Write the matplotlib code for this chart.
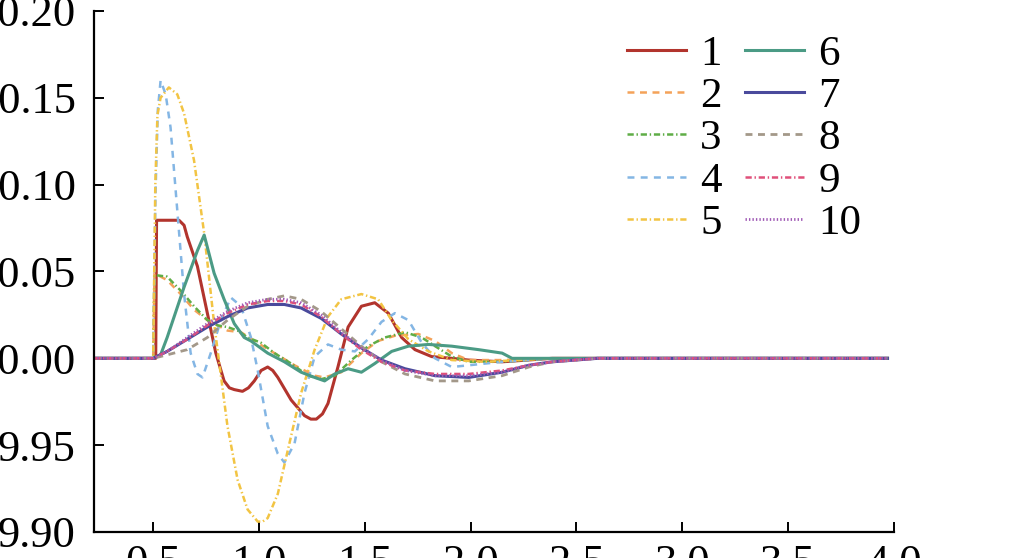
import matplotlib
matplotlib.use("Agg")
import matplotlib.pyplot as plt

plt.rcParams['font.family'] = ['Liberation Serif', 'DejaVu Serif']
plt.rcParams['lines.scale_dashes'] = False

# x positions (time) and y values for every curve
x1 = [0.22, 0.5, 0.512, 0.516, 0.622, 0.646, 0.661, 0.709, 0.756, 0.796, 0.835, 0.860, 0.883, 0.922, 0.950,
      0.978, 1.010, 1.041, 1.065, 1.089, 1.152, 1.215, 1.245, 1.271, 1.300, 1.326, 1.373, 1.421, 1.484,
      1.547, 1.611, 1.674, 1.737, 1.816, 1.911, 1.991, 2.149, 2.386, 2.6, 3.97]
y1 = [10.0, 10.0, 10.0, 10.0795, 10.0795, 10.0766, 10.070, 10.053, 10.026, 10.003, 9.987, 9.983, 9.982,
      9.981, 9.983, 9.987, 9.993, 9.995, 9.993, 9.989, 9.976, 9.967, 9.965, 9.965, 9.968, 9.974, 9.995,
      10.018, 10.030, 10.032, 10.026, 10.012, 10.005, 10.001, 10.000, 9.999, 9.998, 10.000, 10.0, 10.0]

x2 = [0.22, 0.5, 0.506, 0.566, 0.630, 0.693, 0.756, 0.851, 0.915, 0.978, 1.073, 1.168, 1.263, 1.310, 1.389,
      1.484, 1.563, 1.642, 1.753, 1.832, 1.911, 1.991, 2.149, 2.386, 2.6, 3.97]
y2 = [10.0, 10.000, 10.049, 10.045, 10.037, 10.028, 10.022, 10.016, 10.015, 10.010, 10.003, 9.996, 9.990,
      9.989, 9.992, 10.003, 10.010, 10.013, 10.014, 10.010, 10.003, 9.999, 9.999, 10.000, 10.0, 10.0]

x3 = [0.22, 0.5, 0.506, 0.566, 0.630, 0.693, 0.756, 0.804, 0.851, 0.899, 0.946, 1.009, 1.073, 1.152, 1.231,
      1.294, 1.358, 1.437, 1.516, 1.595, 1.690, 1.769, 1.832, 1.911, 1.991, 2.149, 2.386, 2.6, 3.97]
y3 = [10.0, 10.000, 10.048, 10.047, 10.039, 10.030, 10.022, 10.019, 10.018, 10.016, 10.012, 10.009, 10.003,
      9.997, 9.990, 9.988, 9.990, 9.999, 10.007, 10.012, 10.015, 10.012, 10.007, 10.001, 9.998, 9.998,
      10.000, 10.0, 10.0]

x4 = [0.22, 0.5, 0.511, 0.522, 0.535, 0.559, 0.582, 0.614, 0.646, 0.677, 0.709, 0.733, 0.772, 0.820, 0.867,
      0.915, 0.962, 0.994, 1.041, 1.089, 1.120, 1.168, 1.215, 1.263, 1.326, 1.389, 1.453, 1.516, 1.579,
      1.642, 1.706, 1.769, 1.832, 1.911, 1.991, 2.149, 2.386, 2.6, 3.97]
y4 = [10.0, 10.000, 10.095, 10.143, 10.160, 10.152, 10.133, 10.085, 10.037, 10.003, 9.991, 9.989, 10.003,
      10.022, 10.035, 10.030, 10.012, 9.993, 9.961, 9.945, 9.940, 9.951, 9.980, 10.001, 10.008, 10.005,
      10.004, 10.011, 10.021, 10.026, 10.022, 10.009, 10.000, 9.995, 9.996, 9.998, 10.000, 10.0, 10.0]

x5 = [0.22, 0.5, 0.51, 0.52, 0.535, 0.574, 0.614, 0.646, 0.693, 0.741, 0.788, 0.820, 0.851, 0.899, 0.946,
      0.994, 1.017, 1.041, 1.089, 1.136, 1.199, 1.263, 1.326, 1.389, 1.484, 1.563, 1.627, 1.706, 1.801,
      1.911, 2.070, 2.228, 2.386, 2.6, 3.97]
y5 = [10.0, 10.000, 10.100, 10.140, 10.150, 10.156, 10.152, 10.141, 10.114, 10.072, 10.020, 9.990, 9.961,
      9.930, 9.913, 9.906, 9.906, 9.908, 9.922, 9.947, 9.980, 10.005, 10.024, 10.034, 10.037, 10.034,
      10.022, 10.011, 10.004, 9.999, 9.998, 9.999, 10.000, 10.0, 10.0]

x6 = [0.22, 0.5, 0.535, 0.566, 0.646, 0.709, 0.741, 0.788, 0.835, 0.883, 0.930, 0.962, 1.041, 1.120, 1.199,
      1.263, 1.310, 1.358, 1.421, 1.484, 1.547, 1.627, 1.706, 1.801, 1.911, 2.038, 2.149, 2.196, 2.386,
      2.6, 3.97]
y6 = [10.0, 10.000, 10.002, 10.012, 10.041, 10.062, 10.071, 10.049, 10.034, 10.020, 10.012, 10.010, 10.003,
      9.998, 9.992, 9.989, 9.987, 9.991, 9.994, 9.992, 9.997, 10.004, 10.007, 10.008, 10.007, 10.005,
      10.003, 10.000, 10.000, 10.0, 10.0]

# the four slow curves share one set of x positions
x_slow = [0.22, 0.5, 0.566, 0.661, 0.756, 0.851, 0.946, 1.041, 1.120, 1.199, 1.294, 1.389, 1.484, 1.579,
          1.690, 1.832, 1.991, 2.149, 2.275, 2.386, 2.6, 3.97]
y7 = [10.0, 10.000, 10.004, 10.011, 10.018, 10.024, 10.029, 10.031, 10.031, 10.029, 10.023, 10.014, 10.006,
      9.999, 9.994, 9.990, 9.989, 9.992, 9.996, 9.998, 10.0, 10.0]
y8 = [10.0, 10.000, 10.002, 10.005, 10.012, 10.022, 10.030, 10.034, 10.036, 10.034, 10.027, 10.017, 10.007,
      9.998, 9.991, 9.987, 9.987, 9.990, 9.995, 9.998, 10.0, 10.0]
y9 = [10.0, 10.000, 10.004, 10.011, 10.019, 10.026, 10.031, 10.033, 10.033, 10.031, 10.024, 10.014, 10.005,
      9.998, 9.993, 9.991, 9.991, 9.993, 9.996, 9.998, 10.0, 10.0]
y10 = [10.0, 10.000, 10.004, 10.012, 10.020, 10.027, 10.032, 10.034, 10.034, 10.032, 10.025, 10.015, 10.006,
       9.999, 9.993, 9.990, 9.990, 9.992, 9.996, 9.998, 10.0, 10.0]

labels = ['1', '2', '3', '4', '5', '6', '7', '8', '9', '10']
xticks = [0.5, 1.0, 1.5, 2.0, 2.5, 3.0, 3.5, 4.0]
yticks = [9.90, 9.95, 10.00, 10.05, 10.10, 10.15, 10.20]

fig = plt.figure(figsize=(10.1, 5.58), dpi=100)
ax = fig.add_axes([0.093, 0.0466, 0.792, 0.9337])

ax.plot(x1, y1, color='#b2342d', lw=2.2, label=labels[0])
ax.plot(x2, y2, color='#f4a259', lw=1.8, dashes=(5, 4), label=labels[1])
ax.plot(x3, y3, color='#5fad46', lw=1.8, dashes=(4.5, 2, 1, 2), label=labels[2])
ax.plot(x4, y4, color='#84b6e4', lw=1.8, dashes=(5, 4.5), label=labels[3])
ax.plot(x5, y5, color='#f2c443', lw=1.8, dashes=(4.5, 2, 1, 2), label=labels[4])
ax.plot(x6, y6, color='#4b9b85', lw=2.2, label=labels[5])
ax.plot(x_slow, y7, color='#4a4a9c', lw=2.2, label=labels[6])
ax.plot(x_slow, y8, color='#a39889', lw=2.0, dashes=(5, 4), label=labels[7])
ax.plot(x_slow, y9, color='#e0507a', lw=1.8, dashes=(4.5, 2, 1, 2), label=labels[8])
ax.plot(x_slow, y10, color='#a05ab5', lw=2.0, dashes=(1, 1.5), label=labels[9])

ax.set_xlim(0.22, 4.0)
ax.set_ylim(9.90, 10.20)
ax.set_xticks(xticks)
ax.set_yticks(yticks)
ax.set_xticklabels(['%.1f' % v for v in xticks])
ax.set_yticklabels(['%.2f' % v for v in yticks])

# only left and bottom spines, ticks pointing in
ax.spines['top'].set_visible(False)
ax.spines['right'].set_visible(False)
for s in ['left', 'bottom']:
    ax.spines[s].set_linewidth(1.6)
ax.tick_params(direction='in', length=7, width=1.4, labelsize=32)
ax.tick_params(axis='y', pad=13)
ax.tick_params(axis='x', pad=9)

ax.legend(ncol=2, frameon=False, fontsize=31, loc='upper left',
          bbox_to_anchor=(627 / 1010, 1 - 35 / 558), bbox_transform=fig.transFigure,
          borderpad=0, borderaxespad=0, handlelength=1.37, handletextpad=0.33,
          columnspacing=0.55, labelspacing=0.07)

fig.savefig('out.png', dpi=100)
